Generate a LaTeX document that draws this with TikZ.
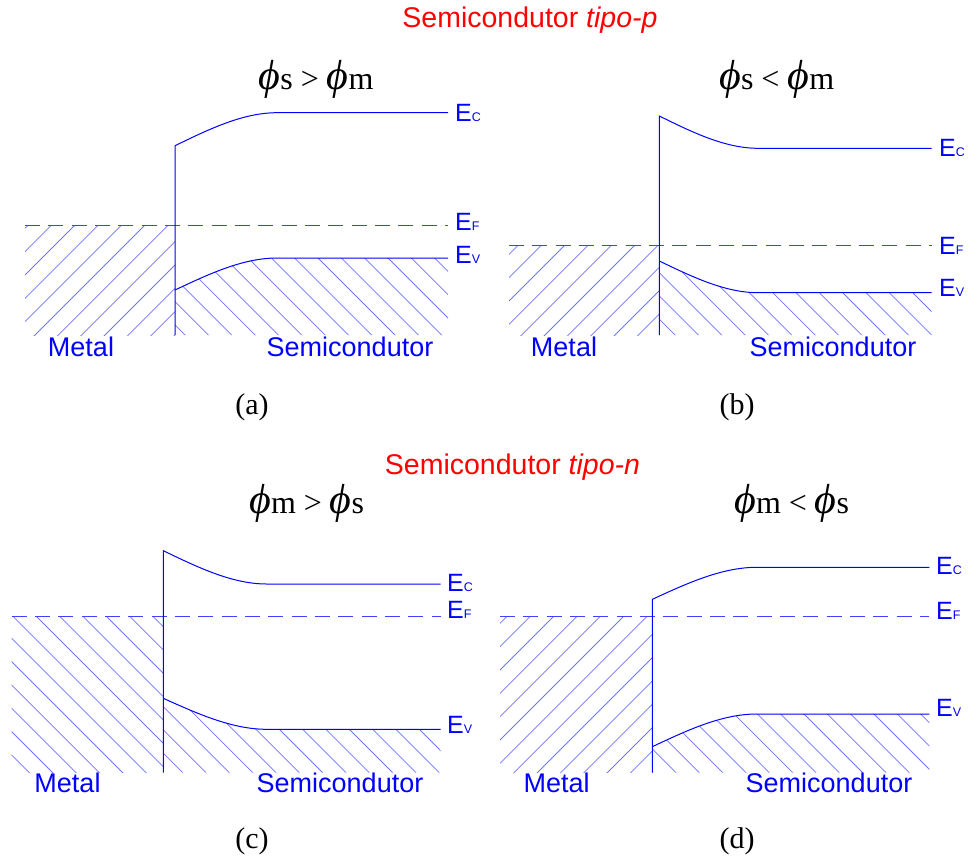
\documentclass[tikz,border=0pt]{standalone}
\usepackage{fontspec}
\setmainfont{Liberation Serif}
\newfontfamily\arialf{Liberation Sans}
\newcommand\myph{{\fontsize{42}{42}\selectfont\itshape ϕ}}
\newcommand\hatchS[2]{\begin{scope}\clip #1; \foreach \k in {0,...,40}{\draw[hatchline] ({#2+23.33*\k},0) -- ({#2+23.33*\k-1000},1000);}\end{scope}}
\newcommand\hatchB[2]{\begin{scope}\clip #1; \foreach \k in {0,...,40}{\draw[hatchline] (0,{#2+23.33*\k}) -- (1000,{#2+23.33*\k+1000});}\end{scope}}
\newcommand\En[1]{E{\fontsize{12.5}{12.5}\selectfont #1}}
\begin{document}
\begin{tikzpicture}[x=1pt,y=-1pt,
  band/.style={blue, line width=1pt},
  fermi/.style={blue!75, line width=1pt, dash pattern=on 15pt off 8.33pt},
  hatchline/.style={blue!55, line width=0.75pt},
  lbl/.style={text=blue, font=\arialf\fontsize{27}{27}\selectfont, inner sep=0},
  elbl/.style={text=blue, font=\arialf\fontsize{25}{25}\selectfont, inner sep=0, anchor=west},
  ttl/.style={font=\fontsize{32}{32}\selectfont, inner sep=0, anchor=base},
  redttl/.style={text=red, font=\arialf\fontsize{28.5}{28.5}\selectfont, inner sep=0, anchor=base},
  sublbl/.style={font=\fontsize{30}{30}\selectfont, inner sep=0, anchor=base}]
\useasboundingbox (0,0) rectangle (968,859);

% red titles
\node[redttl] (tp) at (530,27.3) {Semicondutor \textit{tipo-p}};
\node[redttl] (tn) at (512.5,474.3) {Semicondutor \textit{tipo-n}};

% ---------- (a) ----------
\hatchS{(25,225.7) rectangle (175,335)}{230}
\hatchB{(175,335) -- (175,290) .. controls (209,274) and (243,258) .. (277,258) -- (448,258) -- (448,335) -- cycle}{-200}
\draw[fermi] (25,225.7) -- (448,225.7);
\draw[band] (175,335) -- (175,145.7) .. controls (209,129.2) and (243,112.7) .. (277,112.7) -- (448,112.7);
\draw[band] (175,290) .. controls (209,274) and (243,258) .. (277,258) -- (448,258);
\node[ttl] (ta) at (316,89) {\myph s > \myph m};
\node[elbl] (eca) at (455,112.5) {\En{C}};
\node[elbl] (efa) at (455,221.5) {\En{F}};
\node[elbl] (eva) at (455,255) {\En{V}};
\node[lbl] (ma) at (81,346.5) {Metal};
\node[lbl] (sa) at (350,346.5) {Semicondutor};
\node[sublbl] (la) at (252,414) {(a)};

% ---------- (b) ----------
\hatchS{(509,245.7) rectangle (659.3,335)}{740}
\hatchB{(659.3,335) -- (659.3,261) .. controls (692.2,276.8) and (725.1,292.7) .. (758,292.7) -- (931.7,292.7) -- (931.7,335) -- cycle}{-690}
\draw[fermi] (509,245.7) -- (931.7,245.7);
\draw[band] (659.3,335) -- (659.3,116) .. controls (692.2,132.2) and (725.1,148.3) .. (758,148.3) -- (931.7,148.3);
\draw[band] (659.3,261) .. controls (692.2,276.8) and (725.1,292.7) .. (758,292.7) -- (931.7,292.7);
\node[ttl] (tb) at (776.7,89) {\myph s < \myph m};
\node[elbl] (ecb) at (939,147.8) {\En{C}};
\node[elbl] (efb) at (939,245.8) {\En{F}};
\node[elbl] (evb) at (939,288) {\En{V}};
\node[lbl] (mb) at (564,346.5) {Metal};
\node[lbl] (sb) at (833,346.5) {Semicondutor};
\node[sublbl] (lb) at (737,414) {(b)};

% ---------- (c) ----------
\hatchB{(11.7,616) rectangle (163.3,772.7)}{440}
\hatchB{(163.3,772.7) -- (163.3,698.3) .. controls (197.8,713.8) and (232.2,729.3) .. (266.7,729.3) -- (440.7,729.3) -- (440.7,772.7) -- cycle}{240}
\draw[fermi] (11.7,616) -- (440.7,616);
\draw[band] (163.3,772.7) -- (163.3,550.7) .. controls (197.8,567.3) and (232.2,584) .. (266.7,584) -- (440.7,584);
\draw[band] (163.3,698.3) .. controls (197.8,713.8) and (232.2,729.3) .. (266.7,729.3) -- (440.7,729.3);
\node[ttl] (tc) at (306.7,513) {\myph m > \myph s};
\node[elbl] (ecc) at (447,583.3) {\En{C}};
\node[elbl] (efc) at (447,610) {\En{F}};
\node[elbl] (evc) at (447,725) {\En{V}};
\node[lbl] (mc) at (67.5,783) {Metal};
\node[lbl] (sc) at (340,783) {Semicondutor};
\node[sublbl] (lc) at (252,848) {(c)};

% ---------- (d) ----------
\hatchS{(500,616) rectangle (652.3,772.7)}{1100}
\hatchB{(652.3,772.7) -- (652.3,746.7) .. controls (687.1,730.3) and (721.9,714) .. (756.7,714) -- (929.3,714) -- (929.3,772.7) -- cycle}{-230}
\draw[fermi] (500,616) -- (929.3,616);
\draw[band] (652.3,772.7) -- (652.3,599.3) .. controls (687.1,583.3) and (721.9,567.3) .. (756.7,567.3) -- (929.3,567.3);
\draw[band] (652.3,746.7) .. controls (687.1,730.3) and (721.9,714) .. (756.7,714) -- (929.3,714);
\node[ttl] (td) at (791.7,513) {\myph m < \myph s};
\node[elbl] (ecd) at (936,566) {\En{C}};
\node[elbl] (efd) at (936,611) {\En{F}};
\node[elbl] (evd) at (936,708) {\En{V}};
\node[lbl] (md) at (556.7,783) {Metal};
\node[lbl] (sd) at (829,783) {Semicondutor};
\node[sublbl] (ld) at (737,848) {(d)};
\end{tikzpicture}
\end{document}
